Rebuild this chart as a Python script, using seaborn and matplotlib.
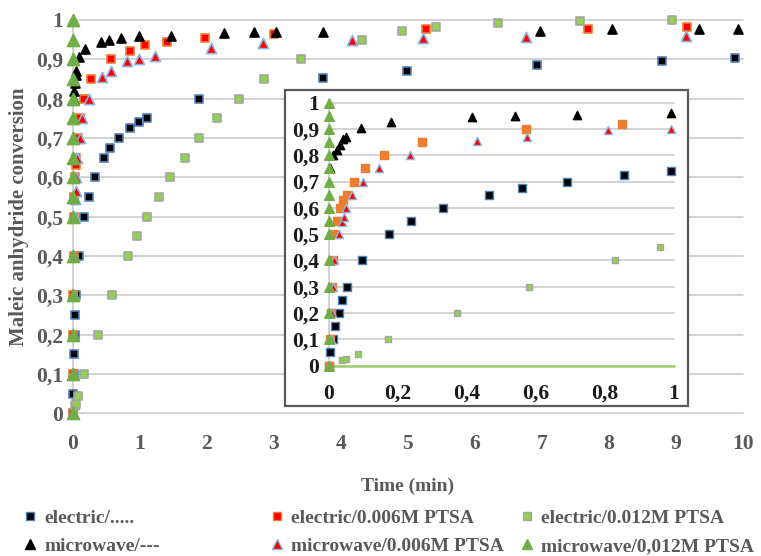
import matplotlib
matplotlib.use('Agg')
import matplotlib.pyplot as plt
from matplotlib.patches import Rectangle
from matplotlib.lines import Line2D
import seaborn as sns
import pandas as pd

# Dados (tempo em min, conversão do anidrido maleico)
t_elec = [0, 0.003, 0.013, 0.017, 0.028, 0.037, 0.053, 0.097, 0.174, 0.238, 0.33, 0.464,
          0.56, 0.69, 0.856, 0.99, 1.10, 1.88, 3.74, 4.99, 6.93, 8.8, 9.89]
y_elec = [0, 0.05, 0.1, 0.15, 0.2, 0.25, 0.3, 0.4, 0.5, 0.55, 0.6, 0.65,
          0.675, 0.70, 0.725, 0.74, 0.75, 0.80, 0.852, 0.869, 0.885, 0.896, 0.902]

t_elec006 = [0, 0.004, 0.007, 0.01, 0.013, 0.017, 0.024, 0.032, 0.042, 0.051, 0.073, 0.105,
             0.16, 0.27, 0.57, 0.85, 1.07, 1.41, 1.98, 3.0, 5.27, 7.69, 9.17]
y_elec006 = [0, 0.1, 0.2, 0.3, 0.4, 0.5, 0.55, 0.6, 0.63, 0.65, 0.7, 0.75,
             0.8, 0.85, 0.9, 0.92, 0.935, 0.944, 0.953, 0.963, 0.976, 0.977, 0.981]

t_elec012 = [0.037, 0.049, 0.083, 0.17, 0.37, 0.58, 0.83, 0.96, 1.11, 1.28, 1.45, 1.67,
             1.88, 2.15, 2.48, 2.86, 3.41, 4.31, 4.92, 5.42, 6.34, 7.57, 8.94]
y_elec012 = [0.02, 0.025, 0.045, 0.1, 0.2, 0.3, 0.4, 0.45, 0.5, 0.55, 0.6, 0.65,
             0.7, 0.75, 0.8, 0.85, 0.9, 0.95, 0.973, 0.983, 0.991, 0.998, 1.0]

t_micro = [0.003, 0.013, 0.022, 0.032, 0.042, 0.048, 0.092, 0.18, 0.415, 0.54, 0.72, 0.99,
           1.47, 2.25, 2.71, 3.03, 3.74, 6.97, 8.05, 9.34, 9.93]
y_micro = [0.75, 0.80, 0.82, 0.84, 0.86, 0.87, 0.905, 0.925, 0.945, 0.95, 0.955, 0.96,
           0.96, 0.966, 0.968, 0.968, 0.969, 0.973, 0.976, 0.976, 0.976]

t_micro006 = [0, 0.005, 0.008, 0.011, 0.014, 0.03, 0.037, 0.044, 0.05, 0.066, 0.1, 0.144,
              0.236, 0.43, 0.575, 0.81, 0.99, 1.22, 2.07, 2.84, 4.17, 5.23, 6.76, 9.15]
y_micro006 = [0, 0.1, 0.2, 0.3, 0.4, 0.5, 0.546, 0.565, 0.6, 0.65, 0.7, 0.75,
              0.8, 0.855, 0.87, 0.895, 0.9, 0.908, 0.929, 0.942, 0.948, 0.954, 0.957, 0.96]

t_micro012 = [0, 0, 0, 0, 0, 0, 0, 0, 0, 0, 0, 0, 0, 0, 0, 0]
y_micro012 = [0, 0.1, 0.2, 0.3, 0.4, 0.5, 0.55, 0.6, 0.65, 0.7, 0.75, 0.8, 0.85, 0.9, 0.95, 1.0]

yticks = [0, 0.1, 0.2, 0.3, 0.4, 0.5, 0.6, 0.7, 0.8, 0.9, 1.0]
ytick_labels = ['0', '0,1', '0,2', '0,3', '0,4', '0,5', '0,6', '0,7', '0,8', '0,9', '1']
xticks_main = [0, 1, 2, 3, 4, 5, 6, 7, 8, 9, 10]
xticks_inset = [0, 0.2, 0.4, 0.6, 0.8, 1.0]
xtick_labels_inset = ['0', '0,2', '0,4', '0,6', '0,8', '1']

# nome, t, y, marcador, cor, borda, tamanho principal, tamanho inset, cor no inset
series = [
    ('electric/.....', t_elec, y_elec, 's', '#000000', '#4F81BD', 32, 26, '#000000'),
    ('electric/0.006M PTSA', t_elec006, y_elec006, 's', '#FF0000', '#ED7D31', 40, 30, '#ED7D31'),
    ('electric/0.012M PTSA', t_elec012, y_elec012, 's', '#92D050', '#A5A5A5', 28, 24, '#92D050'),
    ('microwave/---', t_micro, y_micro, '^', '#000000', '#000000', 42, 36, '#000000'),
    ('microwave/0.006M PTSA', t_micro006, y_micro006, '^', '#FF0000', '#8DB4E2', 54, 34, '#FF0000'),
    ('microwave/0,012M PTSA', t_micro012, y_micro012, '^', '#70AD47', '#70AD47', 75, 48, '#70AD47'),
]

sns.set_theme(style='white')
plt.rcParams['font.family'] = ['Liberation Serif', 'DejaVu Serif']
plt.rcParams['font.weight'] = 'bold'

cinza = '#595959'
grade = '#CFCFCF'

fig = plt.figure(figsize=(7.61, 5.56), dpi=100)
ax = fig.add_axes([0.0957, 0.2565, 0.8803, 0.7077])

for nome, t, y, mk, cor, borda, s1, s2, cor2 in series:
    df = pd.DataFrame({'t': t, 'y': y})
    sns.scatterplot(data=df, x='t', y='y', ax=ax, marker=mk, s=s1, color=cor,
                    edgecolor=borda, linewidth=1.2, clip_on=False, zorder=3, legend=False)

ax.set_xlim(0, 10)
ax.set_ylim(0, 1)
ax.set_xticks(xticks_main)
ax.set_xticklabels([str(v) for v in xticks_main])
ax.set_yticks(yticks)
ax.set_yticklabels(ytick_labels)
ax.tick_params(axis='both', length=0, labelsize=15.5, labelcolor=cinza)
ax.tick_params(axis='y', pad=7)
ax.tick_params(axis='x', pad=15)
ax.set_axisbelow(True)
ax.yaxis.grid(True, color=grade, linewidth=1.3)
ax.xaxis.grid(False)
for gl in ax.get_ygridlines():
    gl.set_clip_on(False)
for sp in ['top', 'right', 'bottom']:
    ax.spines[sp].set_visible(False)
ax.spines['left'].set_color(grade)
ax.spines['left'].set_linewidth(1.3)
ax.set_xlabel('Time (min)', fontsize=14, color=cinza, fontweight='bold', labelpad=17)
ax.set_ylabel('Maleic anhydride conversion', fontsize=15, color=cinza, fontweight='bold', labelpad=5)

# Caixa do gráfico ampliado
caixa = Rectangle((0.3745, 0.2698), 0.5295, 0.5683, transform=fig.transFigure,
                  facecolor='white', edgecolor='#595959', lw=1.6, zorder=1)
fig.patches.append(caixa)

ax2 = fig.add_axes([0.4323, 0.3426, 0.4534, 0.4727])
ax2.set_zorder(2)
ax2.patch.set_alpha(0)

for nome, t, y, mk, cor, borda, s1, s2, cor2 in series:
    df = pd.DataFrame({'t': t, 'y': y})
    df = df[df['t'] <= 1.0]
    sns.scatterplot(data=df, x='t', y='y', ax=ax2, marker=mk, s=s2, color=cor2,
                    edgecolor=borda, linewidth=1.0, clip_on=False, zorder=3, legend=False)

ax2.set_xlim(0, 1)
ax2.set_ylim(0, 1)
ax2.set_xticks(xticks_inset)
ax2.set_xticklabels(xtick_labels_inset)
ax2.set_yticks(yticks)
ax2.set_yticklabels(ytick_labels)
ax2.tick_params(axis='both', length=0, labelsize=15.5, labelcolor='#1a1a1a')
ax2.tick_params(axis='y', pad=7)
ax2.tick_params(axis='x', pad=13)
ax2.set_axisbelow(True)
ax2.yaxis.grid(True, color=grade, linewidth=1.3)
ax2.xaxis.grid(False)
for gl in ax2.get_ygridlines():
    gl.set_clip_on(False)
linha0 = ax2.axhline(0, color='#9BCF6E', lw=1.8, zorder=2.5)
linha0.set_clip_on(False)
ax2.set_xlabel('')
ax2.set_ylabel('')
for sp in ['top', 'right', 'bottom']:
    ax2.spines[sp].set_visible(False)
ax2.spines['left'].set_color(grade)
ax2.spines['left'].set_linewidth(1.3)

# Legenda em três colunas
def handle(i):
    nome, t, y, mk, cor, borda, s1, s2, cor2 = series[i]
    return Line2D([], [], linestyle='none', marker=mk, markersize=6 if mk == 's' else 7,
                  markerfacecolor=cor, markeredgecolor=borda, markeredgewidth=1.0, label=nome)

colunas = [(0, 3, 23), (1, 4, 270), (2, 5, 520)]
for a, b, xpx in colunas:
    leg = fig.legend(handles=[handle(a), handle(b)], loc='upper left',
                     bbox_to_anchor=(xpx / 761, 1 - 509 / 556), frameon=False,
                     borderaxespad=0, borderpad=0, handlelength=0.7, handletextpad=0.4,
                     labelspacing=0.55, prop={'family': 'Liberation Serif', 'weight': 'bold', 'size': 14})
    for txt in leg.get_texts():
        txt.set_color(cinza)

fig.savefig('out.png', dpi=100)
